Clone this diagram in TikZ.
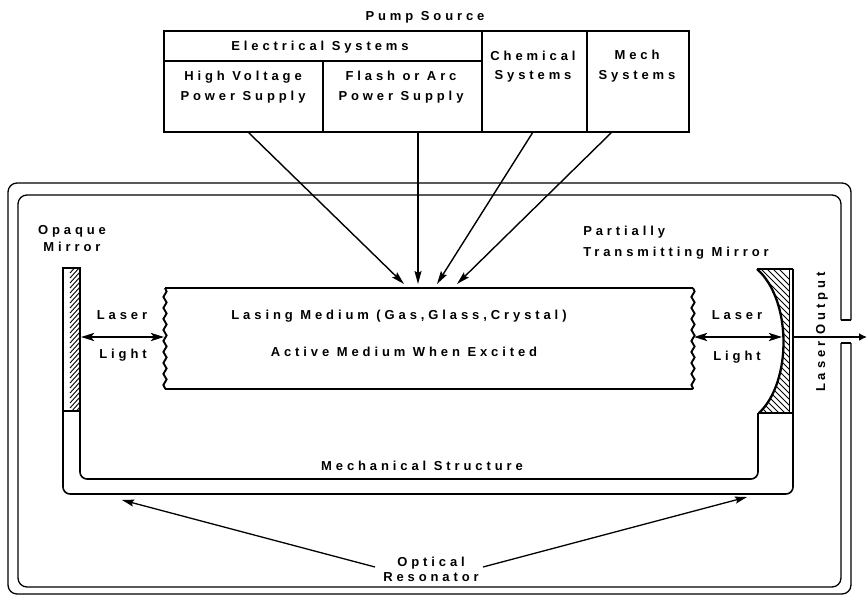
\documentclass[tikz,border=0pt]{standalone}
\usepackage{fontspec}
\newfontfamily\lblfont{Liberation Sans Bold}[LetterSpace=30]
\usetikzlibrary{arrows.meta,decorations.pathmorphing}
\tikzset{
  lbl/.style={font=\lblfont\fontsize{13}{#1}\selectfont, align=center, inner sep=0pt},
  lbl/.default=15,
  thinline/.style={line width=1.3pt, black},
  mechline/.style={line width=1.6pt, black},
  boxline/.style={line width=1.9pt, black},
  wavy/.style={boxline, decorate, decoration={snake, amplitude=1.6pt, segment length=11pt}},
  pumparrow/.style={line width=1.4pt, -{Stealth[length=13pt,width=7pt,inset=2pt]}},
  resarrow/.style={line width=1.3pt, -{Stealth[length=12pt,width=7pt,inset=2pt]}},
  lightarrow/.style={line width=2.5pt, {Stealth[length=13pt,width=8pt,inset=3pt]}-{Stealth[length=13pt,width=8pt,inset=3pt]}},
  outarrow/.style={line width=2.2pt, -{Latex[length=8pt,width=8pt]}},
  hatch/.style={line width=0.9pt}
}
\begin{document}
\begin{tikzpicture}[x=1pt,y=-1pt]
\useasboundingbox (0,0) rectangle (867,596);

% ---------- Pump source table ----------
\node[lbl] (pump) at (425,17) {Pump Source};
\draw[thinline] (164,31) rectangle (689,132);
\draw[thinline] (164,61) -- (482,61);
\draw[thinline] (323,61) -- (323,132);
\draw[thinline] (482,31) -- (482,132);
\draw[thinline] (587,31) -- (587,132);
\node[lbl] (elec) at (320,47) {Electrical Systems};
\node[lbl=20] (hv) at (243,87) {High Voltage\\Power Supply};
\node[lbl=20] (flash) at (401,87) {Flash or Arc\\Power Supply};
\node[lbl=19] (chem) at (533,66.5) {Chemical\\Systems};
\node[lbl=20] (mech) at (637,66.5) {Mech\\Systems};

\coordinate (s1) at (248,132);
\coordinate (s2) at (418,132);
\coordinate (s3) at (533,132);
\coordinate (s4) at (612,132);
\coordinate (t1) at (404,284);
\coordinate (t2) at (418,284);
\coordinate (t3) at (437,284);
\coordinate (t4) at (457,284);
\draw[pumparrow] (s1) -- (t1);
\draw[pumparrow] (s2) -- (t2);
\draw[pumparrow] (s3) -- (t3);
\draw[pumparrow] (s4) -- (t4);

% ---------- Outer frame ----------
\draw[thinline] (841,320) -- (851,320);
\draw[thinline] (841,343) -- (851,343);
\draw[thinline, rounded corners=9pt] (851,320) -- (851,183) -- (8,183) -- (8,594) -- (851,594) -- (851,343);
\draw[thinline, rounded corners=9pt] (841,320) -- (841,195) -- (18,195) -- (18,587) -- (841,587) -- (841,343);

% ---------- Lasing medium ----------
\draw[boxline] (165,288) -- (693,288);
\draw[boxline] (165,389) -- (693,389);
\draw[wavy] (165,288) -- (165,389);
\draw[wavy] (693,288) -- (693,389);
\node[lbl] (lasing) at (399,316) {Lasing Medium (Gas,Glass,Crystal)};
\node[lbl] (active) at (404,352) {Active Medium When Excited};

% ---------- Left mirror and mechanical structure ----------
\node[lbl=17] (opaque) at (72,238.5) {Opaque\\Mirror};
\begin{scope}
  \clip (68,268) rectangle (80,411);
  \foreach \y in {262,267,...,414} {
    \draw[hatch] (80,\y) -- (70,\y+11);
  }
\end{scope}
\draw[mechline] (63,268) rectangle (80,411);
\draw[mechline, rounded corners=7pt] (63,411) -- (63,494) -- (793,494) -- (793,269);
\draw[mechline, rounded corners=7pt] (80,411) -- (80,479) -- (758,479) -- (758,413);
\node[lbl] (mechs) at (422,466) {Mechanical Structure};

% ---------- Right mirror ----------
\node[lbl=21, align=left] (partial) at (676,242.5) {Partially\\Transmitting Mirror};
\begin{scope}
  \clip (757,269) .. controls (792,300) and (792,382) .. (759,413) -- (789,413) -- (789,269) -- cycle;
  \foreach \y in {250,256,...,420} {
    \draw[hatch] (760,\y) -- (790,\y+30);
  }
\end{scope}
\draw[mechline] (757,269) -- (793,269);
\draw[mechline] (758,413) -- (793,413);
\draw[line width=0.8pt] (789,269) -- (789,413);
\draw[line width=2.3pt] (757,269) .. controls (792,300) and (792,382) .. (759,413);

% ---------- Laser light ----------
\node[lbl] (laserL) at (122,315) {Laser};
\node[lbl] (lightL) at (123,355) {Light};
\node[lbl] (laserR) at (737,315) {Laser};
\node[lbl] (lightR) at (737,357) {Light};
\coordinate (ml) at (81,337);
\coordinate (bl) at (164,337);
\coordinate (br) at (694,337);
\coordinate (mr) at (782,337);
\draw[lightarrow] (ml) -- (bl);
\draw[lightarrow] (br) -- (mr);
\coordinate (oa) at (793,337);
\coordinate (ob) at (867,337);
\draw[outarrow] (oa) -- (ob);
\node[lbl, rotate=90] (output) at (822,332) {Laser Output};

% ---------- Optical resonator ----------
\node[lbl=15] (optical) at (431,569.5) {Optical\\Resonator};
\coordinate (r1) at (375,567);
\coordinate (r2) at (122,500);
\coordinate (r3) at (483,567);
\coordinate (r4) at (747,497);
\draw[resarrow] (r1) -- (r2);
\draw[resarrow] (r3) -- (r4);
\end{tikzpicture}
\end{document}
